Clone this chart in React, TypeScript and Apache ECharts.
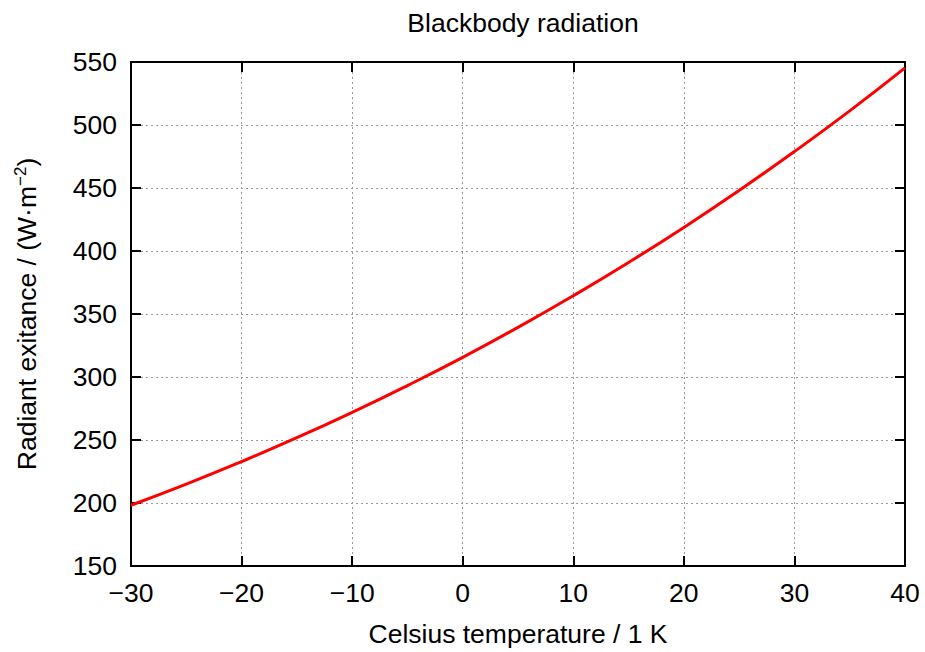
import React, { useEffect, useRef } from "react";
import * as echarts from "echarts";

const temperatures = [-30, -25, -20, -15, -10, -5, 0, 5, 10, 15, 20, 25, 30, 35, 40];
const exitance = [198.2, 215.0, 232.9, 251.8, 271.9, 293.2, 315.6, 339.4, 364.5, 390.9, 418.7, 448.1, 478.9, 511.2, 545.3];

const xMin = -30, xMax = 40, xStep = 10;
const yMin = 150, yMax = 550, yStep = 50;

const FONT = "Liberation Sans";
const FS = 26.5;

export default function App() {
  const ref = useRef<HTMLDivElement>(null);
  useEffect(() => {
    if (!ref.current) return;
    const chart = echarts.init(ref.current, null, { renderer: "svg" });
    const fmt = (v: number) => String(v).replace("-", "\u2212");
    const tickStyle = { show: true, inside: true, length: 10, lineStyle: { color: "#000", width: 2 } };
    const axisLine = { show: true, onZero: false, lineStyle: { color: "#000", width: 2 } };
    const grid = { type: [2, 3] as any, color: "#999", width: 1 };
    chart.setOption({
      animation: false,
      backgroundColor: "#fff",
      title: {
        text: "Blackbody radiation",
        left: 518,
        textAlign: "center",
        top: 4,
        textStyle: { fontFamily: FONT, fontSize: FS, fontWeight: "normal", color: "#000" },
      },
      grid: { left: 131, right: 20, top: 62, bottom: 82 },
      xAxis: [
        {
          type: "value", min: xMin, max: xMax, interval: xStep, position: "bottom",
          axisLine, axisTick: tickStyle,
          axisLabel: { formatter: fmt, fontFamily: FONT, fontSize: FS, color: "#000", margin: 13 },
          splitLine: { show: true, lineStyle: grid },
          name: "Celsius temperature / 1 K", nameLocation: "middle", nameGap: 54,
          nameTextStyle: { fontFamily: FONT, fontSize: FS, color: "#000" },
        },
        {
          type: "value", min: xMin, max: xMax, interval: xStep, position: "top",
          axisLine, axisTick: tickStyle, axisLabel: { show: false }, splitLine: { show: false },
        },
      ],
      yAxis: [
        {
          type: "value", min: yMin, max: yMax, interval: yStep, position: "left",
          axisLine, axisTick: tickStyle,
          axisLabel: { fontFamily: FONT, fontSize: FS, color: "#000", margin: 14 },
          splitLine: { show: true, lineStyle: grid },
          name: "Radiant exitance / (W\u00b7m{sup|\u22122})", nameLocation: "middle", nameGap: 90, nameRotate: 90,
          nameTextStyle: {
            fontFamily: FONT, fontSize: FS, color: "#000",
            rich: { sup: { fontFamily: FONT, fontSize: 17, color: "#000", verticalAlign: "top", padding: [0, 0, 12, 0] } },
          },
        },
        {
          type: "value", min: yMin, max: yMax, interval: yStep, position: "right",
          axisLine, axisTick: tickStyle, axisLabel: { show: false }, splitLine: { show: false },
        },
      ],
      series: [
        {
          type: "line",
          data: temperatures.map((t, i) => [t, exitance[i]]),
          smooth: true,
          showSymbol: false,
          lineStyle: { color: "#ff0000", width: 3 },
          itemStyle: { color: "#ff0000" },
        },
      ],
    });
    return () => chart.dispose();
  }, []);
  return <div ref={ref} style={{ width: 925, height: 652, position: "absolute", left: 0, top: 0 }} />;
}
